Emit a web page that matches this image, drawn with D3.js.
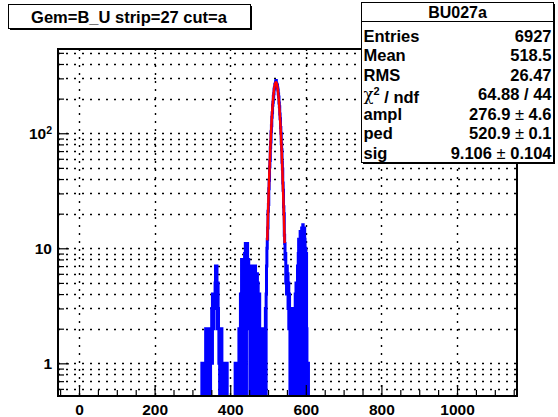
<!DOCTYPE html>
<html>
<head>
<meta charset="utf-8">
<script src="https://cdn.jsdelivr.net/npm/d3@7"></script>
<style>
  body { margin: 0; background: #fff; }
  text { font-family: "Liberation Sans", Arial, sans-serif; font-weight: bold; }
</style>
</head>
<body>
<div id="graph-area"></div>
<script>
// Histogram BU027a, 1 unit bins starting at binStart
var binStart = 320;
var binWidth = 1;
var counts = [
  0,0,0,0,0,1,0,1,0,0,
  1,0,1,1,0,2,1,0,2,1,
  0,2,1,2,0,1,2,0,2,1,
  2,3,1,4,2,3,2,4,3,4,
  5,7,3,6,7,4,2,5,3,2,
  1,2,0,1,2,0,1,2,1,0,
  1,0,1,0,0,1,1,0,1,0,
  0,1,0,0,0,0,0,0,0,0,
  0,0,0,0,0,0,0,0,0,0,
  0,0,0,1,0,1,0,0,1,0,
  1,0,1,2,0,1,1,4,0,3,
  8,2,5,0,3,6,1,4,9,2,
  11,5,0,7,4,11,6,3,8,5,
  2,7,0,4,6,3,7,1,5,0,
  7,4,2,6,0,3,7,5,2,0,
  4,6,1,5,0,3,2,4,0,1,
  2,0,1,2,0,2,1,0,2,1,
  2,0,1,3,0,4,7,10,12,15,
  21,24,33,39,51,58,75,84,103,116,
  138,151,175,186,210,221,243,250,266,270,
  280,287,272,266,262,247,238,219,207,183,
  170,147,134,112,100,81,72,56,49,37,
  32,23,20,13,11,8,9,5,6,4,
  7,4,6,3,5,2,4,3,0,2,
  3,1,2,0,2,3,1,2,0,2,
  3,0,4,2,5,3,0,4,7,5,
  9,12,0,11,8,14,10,0,12,15,
  9,13,16,0,14,8,15,12,0,10,
  4,9,2,0,1,0,1,0,0,0
];

// gaussian fit (from the stats box)
var fitAmpl = 276.9;
var fitPed = 520.9;
var fitSig = 9.106;
var fitRange = [498, 544];

var xDomain = [-55.6, 1158.7];
var yDomain = [0.52, 540];
var xTicks = [0, 200, 400, 600, 800, 1000];
var yLabels = [1, 10, 100];

var title = "Gem=B_U strip=27 cut=a";
var statTitle = "BU027a";
var statNames = ["Entries", "Mean", "RMS", "chi2 / ndf", "ampl", "ped", "sig"];
var statValues = ["6927", "518.5", "26.47", "64.88 / 44", "276.9 \u00b1 4.6", "520.9 \u00b1 0.1", "9.106 \u00b1 0.104"];

width = 558;
height = 417;
var frame = {left: 58, right: 517, top: 49, bottom: 396};

var svg = d3.select("#graph-area")
  .append("svg")
  .attr("width", width)
  .attr("height", height);

// SCALES
var x = d3.scaleLinear().domain(xDomain).range([frame.left, frame.right]);
var y = d3.scaleLog().domain(yDomain).range([frame.bottom, frame.top]);

svg.append("clipPath").attr("id", "clip")
  .append("rect")
  .attr("x", frame.left).attr("y", frame.top)
  .attr("width", frame.right - frame.left)
  .attr("height", frame.bottom - frame.top);

// Grid (dotted)
var yGrid = y.ticks().filter(v => v >= yDomain[0] && v <= yDomain[1]);
var grid = svg.append("g").attr("stroke", "black").attr("stroke-width", 1.4).attr("stroke-dasharray", "2,6");
grid.selectAll(".hg").data(yGrid).enter().append("line")
  .attr("x1", frame.left).attr("x2", frame.right)
  .attr("y1", d => Math.round(y(d)) + 0.5).attr("y2", d => Math.round(y(d)) + 0.5);
grid.selectAll(".vg").data(xTicks).enter().append("line")
  .attr("y1", frame.top).attr("y2", frame.bottom)
  .attr("x1", d => Math.round(x(d)) + 0.5).attr("x2", d => Math.round(x(d)) + 0.5);

// Histogram step outline
var pts = [];
counts.forEach((c, i) => {
  var lo = binStart + i * binWidth;
  pts.push([lo, c]);
  pts.push([lo + binWidth, c]);
});
var histLine = d3.line()
  .x(d => x(d[0]))
  .y(d => d[1] > 0 ? y(d[1]) : frame.bottom + 6);

svg.append("path")
  .attr("clip-path", "url(#clip)")
  .attr("d", histLine(pts))
  .attr("fill", "none")
  .attr("stroke", "#0000ff")
  .attr("stroke-width", 3)
  .attr("stroke-linejoin", "miter");

// Fit curve
var fitPts = d3.range(fitRange[0], fitRange[1] + 0.01, 0.25)
  .map(v => [v, fitAmpl * Math.exp(-0.5 * Math.pow((v - fitPed) / fitSig, 2))]);
svg.append("path")
  .attr("clip-path", "url(#clip)")
  .attr("d", d3.line().x(d => x(d[0])).y(d => y(d[1]))(fitPts))
  .attr("fill", "none")
  .attr("stroke", "#ff0000")
  .attr("stroke-width", 2.5);

// Axes
var xMinor = d3.range(-50, 1151, 50).filter(v => xTicks.indexOf(v) < 0);
svg.append("g").attr("transform", "translate(0," + frame.bottom + ")")
  .call(d3.axisBottom(x).tickValues(xMinor).tickSize(-6).tickFormat(""));
var xAxis = svg.append("g").attr("transform", "translate(0," + frame.bottom + ")")
  .call(d3.axisBottom(x).tickValues(xTicks).tickSize(-11).tickPadding(8).tickFormat(d3.format("d")));
xAxis.selectAll("text").attr("font-size", 15.5).attr("fill", "black");

var yMinor = yGrid.filter(v => yLabels.indexOf(v) < 0);
svg.append("g").attr("transform", "translate(" + frame.left + ",0)")
  .call(d3.axisLeft(y).tickValues(yMinor).tickSize(-6).tickFormat(""));
svg.append("g").attr("transform", "translate(" + frame.left + ",0)")
  .call(d3.axisLeft(y).tickValues(yLabels).tickSize(-11).tickFormat(""));
svg.selectAll(".domain").remove();
svg.selectAll(".tick line").attr("stroke", "black").attr("stroke-width", 1.2);

// y labels (10^2 with superscript)
yLabels.forEach(v => {
  var t = svg.append("text")
    .attr("x", frame.left - 6)
    .attr("y", y(v))
    .attr("dy", "0.36em")
    .attr("text-anchor", "end")
    .attr("font-size", 15.5);
  if (v >= 100) {
    t.append("tspan").text("10");
    t.append("tspan").attr("dy", "-0.45em").attr("font-size", 10.5).text(Math.round(Math.log10(v)));
  } else {
    t.text(v);
  }
});

// Frame
svg.append("rect")
  .attr("x", frame.left).attr("y", frame.top)
  .attr("width", frame.right - frame.left)
  .attr("height", frame.bottom - frame.top)
  .attr("fill", "none")
  .attr("stroke", "black")
  .attr("stroke-width", 2);

// Title box
svg.append("rect").attr("x", 10).attr("y", 6).attr("width", 242).attr("height", 24).attr("fill", "black");
svg.append("rect").attr("x", 8.5).attr("y", 4.5).attr("width", 242).attr("height", 24)
  .attr("fill", "white").attr("stroke", "black").attr("stroke-width", 1);
svg.append("text")
  .attr("x", 129).attr("y", 17)
  .attr("dy", "0.36em")
  .attr("text-anchor", "middle")
  .attr("font-size", 16.5)
  .text(title);

// Stats box
var sb = {x: 361.5, y: 2.5, w: 192, h: 160};
svg.append("rect").attr("x", sb.x + 1.5).attr("y", sb.y + 1.5).attr("width", sb.w).attr("height", sb.h).attr("fill", "black");
svg.append("rect").attr("x", sb.x).attr("y", sb.y).attr("width", sb.w).attr("height", sb.h)
  .attr("fill", "white").attr("stroke", "black").attr("stroke-width", 1);
svg.append("line").attr("x1", sb.x).attr("x2", sb.x + sb.w).attr("y1", 21.5).attr("y2", 21.5)
  .attr("stroke", "black").attr("stroke-width", 1);
svg.append("text").attr("x", sb.x + sb.w / 2).attr("y", 12).attr("dy", "0.36em")
  .attr("text-anchor", "middle").attr("font-size", 16).text(statTitle);

statNames.forEach((name, i) => {
  var cy = 36 + i * 19.5;
  var t = svg.append("text").attr("x", sb.x + 2).attr("y", cy).attr("dy", "0.36em").attr("font-size", 16.5);
  if (name.indexOf("chi2") === 0) {
    t.append("tspan").attr("font-weight", "normal").attr("font-family", "DejaVu Serif").text("\u03c7");
    t.append("tspan").attr("dy", "-0.45em").attr("font-size", 11).text("2");
    t.append("tspan").attr("dy", "0.45em").text(" / ndf");
  } else {
    t.text(name);
  }
  var v = svg.append("text").attr("x", sb.x + sb.w - 2).attr("y", cy).attr("dy", "0.36em")
    .attr("text-anchor", "end").attr("font-size", 16.5);
  var parts = statValues[i].split("\u00b1");
  v.append("tspan").text(parts[0]);
  if (parts.length > 1) {
    v.append("tspan").attr("font-weight", "normal").text("\u00b1");
    v.append("tspan").text(parts[1]);
  }
});
</script>
</body>
</html>
